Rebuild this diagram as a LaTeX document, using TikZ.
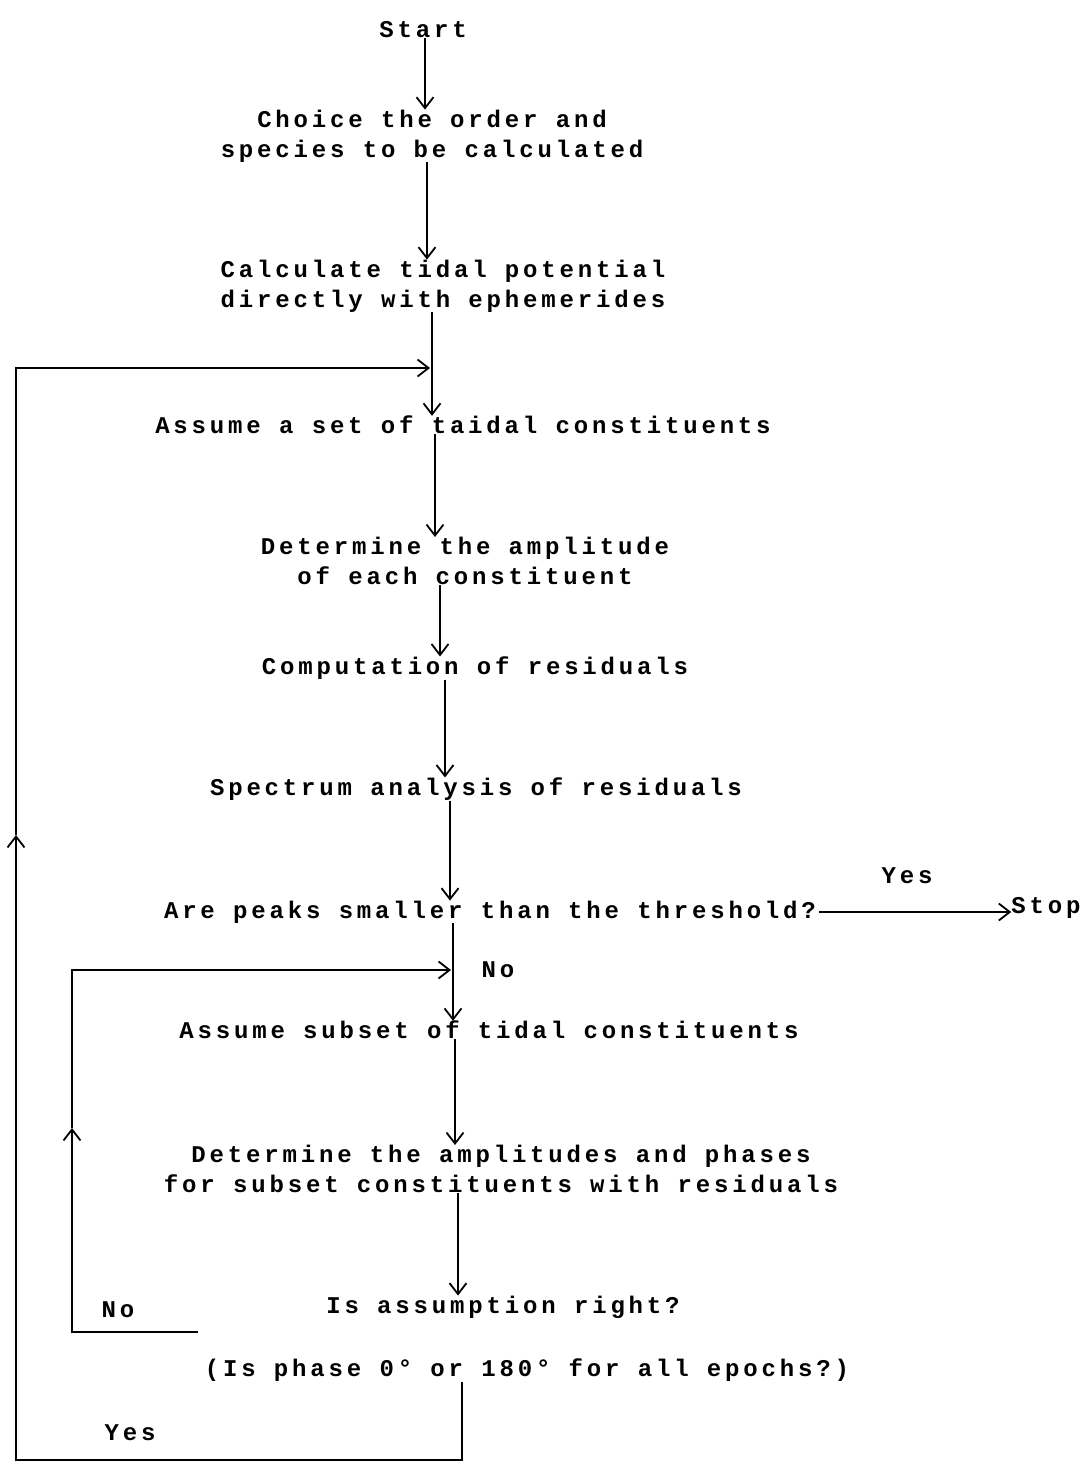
\documentclass[tikz,border=0pt]{standalone}
\usepackage{fontspec}
\newfontfamily\flowfont[LetterSpace=16]{Liberation Mono Bold}
\usetikzlibrary{arrows.meta}

\tikzset{
    flowtext/.style={inner sep=0pt, align=center, font={\flowfont\fontsize{24}{30}\selectfont}},
    flowline/.style={line width=1.8pt},
    flowarrow/.style={flowline, -{Straight Barb[length=11pt,width=17pt,line width=1.8pt]}}
}

\begin{document}
\begin{tikzpicture}[x=1pt, y=-1pt]
        \useasboundingbox (0,0) rectangle (1091,1467);

        \node[flowtext] (start) at (423,30) {Start};
        \node[flowtext] (choice) at (432,136) {Choice the order and\\species to be calculated};
        \node[flowtext] (potential) at (443,286) {Calculate tidal potential\\directly with ephemerides};
        \node[flowtext] (assumeset) at (463,425) {Assume a set of taidal constituents};
        \node[flowtext] (amplitude) at (465,561) {Determine the amplitude\\of each constituent};
        \node[flowtext] (residuals) at (475,668) {Computation of residuals};
        \node[flowtext] (spectrum) at (476,789) {Spectrum analysis of residuals};
        \node[flowtext] (peaks) at (490,912) {Are peaks smaller than the threshold?};
        \node[flowtext] (stop) at (1046,908) {Stop};
        \node[flowtext] (yesstop) at (907,876) {Yes};
        \node[flowtext] (nosubset) at (498,970) {No};
        \node[flowtext] (subset) at (489,1030) {Assume subset of tidal constituents};
        \node[flowtext] (phases) at (501,1169) {Determine the amplitudes and phases\\for subset constituents with residuals};
        \node[flowtext] (right) at (503,1307) {Is assumption right?};
        \node[flowtext] (epochs) at (527,1370) {(Is phase 0° or 180° for all epochs?)};
        \node[flowtext] (noback) at (118,1310) {No};
        \node[flowtext] (yesback) at (130,1433) {Yes};

        % main column
        \draw[flowarrow] (425,0 |- start.south) -- (425,0 |- choice.north);
        \draw[flowarrow] (427,0 |- choice.south) -- (427,0 |- potential.north);
        \draw[flowarrow] (432,0 |- potential.south) -- (432,0 |- assumeset.north);
        \draw[flowarrow] (435,0 |- assumeset.south) -- (435,0 |- amplitude.north);
        \draw[flowarrow] (440,0 |- amplitude.south) -- (440,0 |- residuals.north);
        \draw[flowarrow] (445,0 |- residuals.south) -- (445,0 |- spectrum.north);
        \draw[flowarrow] (450,0 |- spectrum.south) -- (450,0 |- peaks.north);
        \draw[flowarrow] (453,0 |- peaks.south) -- (453,0 |- subset.north);
        \draw[flowarrow] (455,0 |- subset.south) -- (455,0 |- phases.north);
        \draw[flowarrow] (458,0 |- phases.south) -- (458,0 |- right.north);
        \draw[flowarrow] ([xshift=3pt]peaks.east) -- (peaks.east -| stop.west);

        % inner loop (No)
        \coordinate (innerin) at (451,970);
        \coordinate (innerup) at (72,1128);
        \draw[flowarrow] (198,0 |- 0,1332) -| (innerup);
        \draw[flowarrow] (innerup) |- (innerin);

        % outer loop (Yes)
        \coordinate (outerin) at (430,368);
        \coordinate (outerup) at (16,835);
        \draw[flowarrow] (462,0 |- epochs.south) |- (16,1460) -- (outerup);
        \draw[flowarrow] (outerup) |- (outerin);
    \end{tikzpicture}
\end{document}
